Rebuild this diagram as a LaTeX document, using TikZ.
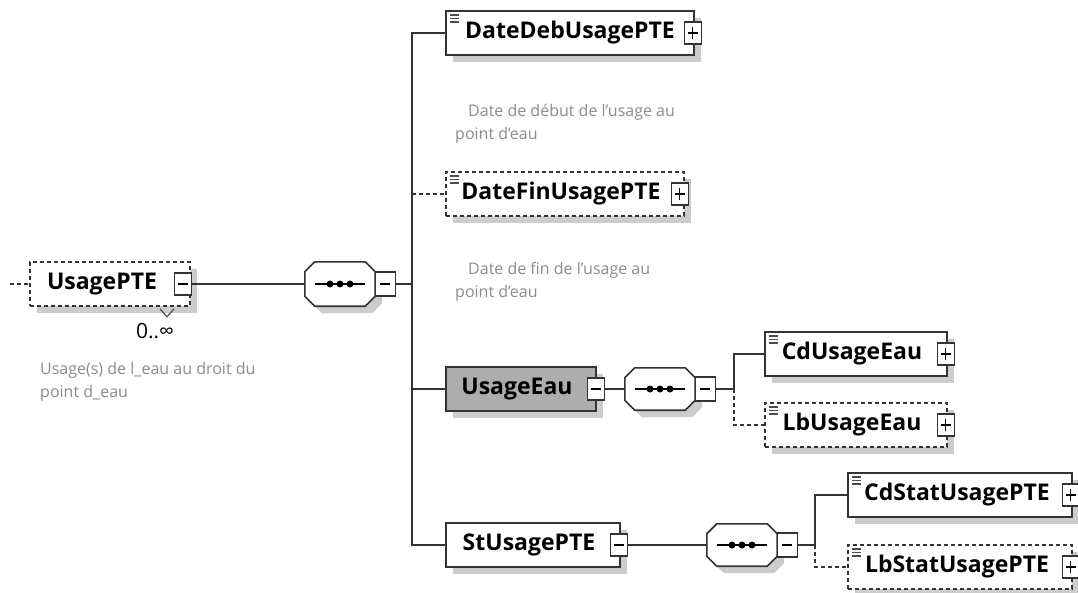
\documentclass[tikz,border=0pt]{standalone}
\usepackage{fontspec}
\setmainfont{Open Sans}
\usepackage{tikz}
\usetikzlibrary{shadows}

\tikzset{
  conn/.style={line width=1.4pt, draw=black!80},
  opt/.style={conn, dash pattern=on 4pt off 3pt},
  shade/.style={general shadow={fill=black!20, shadow xshift=7pt, shadow yshift=-7pt}},
  elem/.style={draw=black!80, line width=1.6pt, fill=white, minimum height=44pt,
    inner sep=0pt, font=\bfseries\fontsize{23}{26}\selectfont, shade},
  optelem/.style={elem, dash pattern=on 4pt off 3pt},
  simple/.style={path picture={
    \foreach \d in {4,7.5,11}
      \draw[solid, line width=1.1pt, black!70]
        ([xshift=4pt,yshift=-\d pt]path picture bounding box.north west) -- ++(9pt,0pt);}},
  tog/.style={draw=black!80, fill=white, line width=1.2pt, minimum width=17pt,
    minimum height=22pt, inner sep=0pt},
  togplus/.style={tog, path picture={
    \draw[black, line width=1.2pt] ([xshift=-5pt]path picture bounding box.center) -- ([xshift=5pt]path picture bounding box.center)
      ([yshift=-6pt]path picture bounding box.center) -- ([yshift=6pt]path picture bounding box.center);}},
  togminus/.style={tog, path picture={
    \draw[black, line width=1.2pt] ([xshift=-5pt]path picture bounding box.center) -- ([xshift=5pt]path picture bounding box.center);}},
  seq/.style={minimum width=70pt, minimum height=44pt, inner sep=0pt},
  seqshape/.style={draw=black!80, line width=1.6pt, fill=white, shade},
  desc/.style={align=left, inner sep=0pt, text=black!45, font=\fontsize{16}{23}\selectfont}
}

\begin{document}
\begin{tikzpicture}[x=1pt, y=-1pt]
\useasboundingbox[fill=white] (0,0) rectangle (1078,592);

% root element
\coordinate (in) at (10,284);
\node[optelem, minimum width=160pt] (UsagePTE) at (110,284) {UsagePTE\hspace*{16pt}};
\node[togminus] (UsagePTEt) at ([xshift=-8pt]UsagePTE.east) {};
\draw[line width=1.2pt, black!70] ([xshift=50pt,yshift=-2pt]UsagePTE.south) -- ++(7pt,-8pt) -- ++(7pt,8pt);
\node[font=\fontsize{21}{24}\selectfont, inner sep=0pt] (occ) at (155,331) {0..∞};
\node[desc, anchor=west] (descUsage) at (40,382) {Usage(s) de l\_eau au droit du\\point d\_eau};

% sequences
\node[seq] (seqA) at (340,284) {};
\node[seq, minimum height=42pt] (seqB) at (660,389) {};
\node[seq, minimum height=42pt] (seqC) at (742,545) {};
\foreach \s in {seqA,seqB,seqC} {
  \filldraw[seqshape] ([xshift=10pt]\s.north west) -- ([xshift=-10pt]\s.north east)
    -- ([yshift=-10pt]\s.north east) -- ([yshift=10pt]\s.south east)
    -- ([xshift=-10pt]\s.south east) -- ([xshift=10pt]\s.south west)
    -- ([yshift=10pt]\s.south west) -- ([yshift=-10pt]\s.north west) -- cycle;
  \draw[line width=1.4pt] ([xshift=-25pt]\s.center) -- ([xshift=25pt]\s.center);
  \foreach \d in {-10,0,10}
    \fill[black] ([xshift=\d pt]\s.center) circle (3.5pt);
}
\node[togminus, minimum width=20pt, minimum height=24pt] (seqAt) at ([xshift=10pt]seqA.east) {};
\node[togminus, minimum width=20pt, minimum height=24pt] (seqBt) at ([xshift=10pt]seqB.east) {};
\node[togminus, minimum width=20pt, minimum height=24pt] (seqCt) at ([xshift=10pt]seqC.east) {};
\coordinate (busA) at (412,284);
\coordinate (busB) at (734,389);
\coordinate (busC) at (815,545);

% children
\node[elem, simple, minimum width=248pt] (DateDeb) at (570,33) {DateDebUsagePTE};
\node[togplus] (DateDebt) at ([xshift=-2pt]DateDeb.east) {};
\node[desc, anchor=west] (descDeb) at (455,124) {\hspace*{13pt}Date de début de l'usage au\\point d'eau};

\node[optelem, simple, minimum width=238pt] (DateFin) at (565,194) {DateFinUsagePTE\hspace*{8pt}};
\node[togplus] (DateFint) at ([xshift=-5pt]DateFin.east) {};
\node[desc, anchor=west] (descFin) at (455,282) {\hspace*{13pt}Date de fin de l'usage au\\point d'eau};

\node[elem, fill=black!32, minimum width=150pt] (UsageEau) at (521,389) {UsageEau\hspace*{8pt}};
\node[togminus] (UsageEaut) at ([xshift=-1pt]UsageEau.east) {};

\node[elem, minimum width=174pt] (StUsage) at (533,545) {StUsagePTE\hspace*{8pt}};
\node[togminus] (StUsaget) at ([xshift=-2pt]StUsage.east) {};

\node[elem, simple, minimum width=182pt] (CdUsageEau) at (856,354) {CdUsageEau\hspace*{8pt}};
\node[togplus] (CdUsageEaut) at ([xshift=-2pt]CdUsageEau.east) {};
\node[optelem, simple, minimum width=182pt] (LbUsageEau) at (856,425) {LbUsageEau\hspace*{8pt}};
\node[togplus] (LbUsageEaut) at ([xshift=-2pt]LbUsageEau.east) {};

\node[elem, simple, minimum width=224pt] (CdStat) at (960,495) {CdStatUsagePTE\hspace*{6pt}};
\node[togplus] (CdStatt) at ([xshift=-2pt]CdStat.east) {};
\node[optelem, simple, minimum width=224pt] (LbStat) at (960,567) {LbStatUsagePTE\hspace*{6pt}};
\node[togplus] (LbStatt) at ([xshift=-2pt]LbStat.east) {};

% connectors
\draw[opt] (in) -- (UsagePTE.west);
\draw[conn] (UsagePTEt.east) -- (seqA.west);
\draw[conn] (seqAt.east) -- (busA);
\draw[conn] (DateDeb.west) -| (busA) |- (StUsage.west);
\draw[opt] (busA |- DateFin.west) -- (DateFin.west);
\draw[conn] (busA |- UsageEau.west) -- (UsageEau.west);
\draw[conn] (UsageEaut.east) -- (seqB.west);
\draw[conn] (seqBt.east) -- (busB);
\draw[conn] (busB) |- (CdUsageEau.west);
\draw[opt] (busB) |- (LbUsageEau.west);
\draw[conn] (StUsaget.east) -- (seqC.west);
\draw[conn] (seqCt.east) -- (busC);
\draw[conn] (busC) |- (CdStat.west);
\draw[opt] (busC) |- (LbStat.west);
\end{tikzpicture}
\end{document}
